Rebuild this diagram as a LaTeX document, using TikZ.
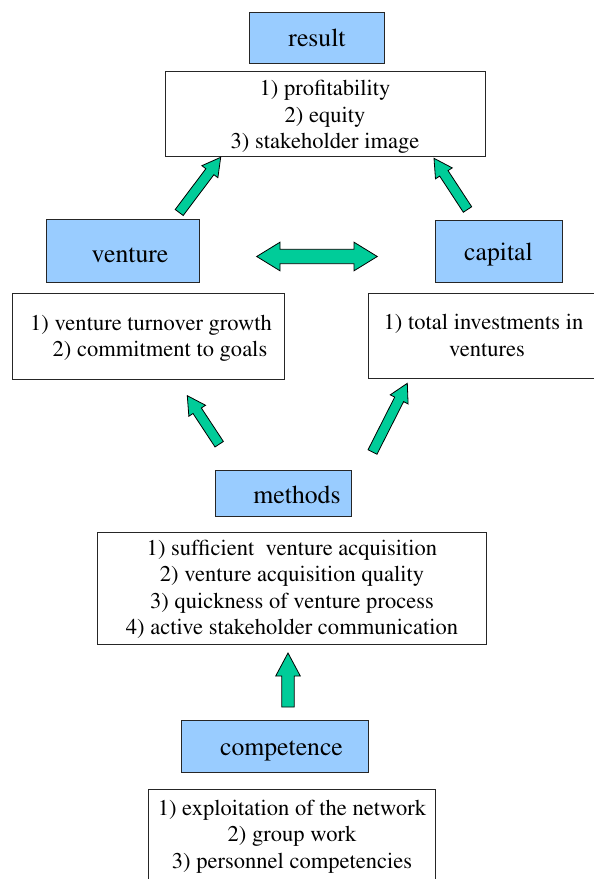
\documentclass[tikz,border=0pt]{standalone}
\usepackage[T1]{fontenc}
\renewcommand{\rmdefault}{ptm}
\usetikzlibrary{calc}

\definecolor{boxblue}{HTML}{99CCFF}
\definecolor{arrowgreen}{HTML}{00CC99}

% block arrow: tail, tip, shaft half-width, head half-width, head length
\newcommand{\blockarrow}[5]{%
  \coordinate (#2-base) at ($(#2)!#5!(#1)$);
  \draw[arrowshape]
    ($(#1)!#3!90:(#2)$) -- ($(#2-base)!#3!90:(#2)$) -- ($(#2-base)!#4!90:(#2)$)
    -- (#2)
    -- ($(#2-base)!#4!-90:(#2)$) -- ($(#2-base)!#3!-90:(#2)$) -- ($(#1)!#3!-90:(#2)$)
    -- cycle;
}
% double-headed block arrow: tip A, tip B, shaft half-width, head half-width, head length
\newcommand{\doubleblockarrow}[5]{%
  \coordinate (#1-base) at ($(#1)!#5!(#2)$);
  \coordinate (#2-base) at ($(#2)!#5!(#1)$);
  \draw[arrowshape]
    (#1) -- ($(#1-base)!#4!90:(#2)$) -- ($(#1-base)!#3!90:(#2)$)
    -- ($(#2-base)!#3!-90:(#1)$) -- ($(#2-base)!#4!-90:(#1)$)
    -- (#2)
    -- ($(#2-base)!#4!90:(#1)$) -- ($(#2-base)!#3!90:(#1)$)
    -- ($(#1-base)!#3!-90:(#2)$) -- ($(#1-base)!#4!-90:(#2)$)
    -- cycle;
}

\tikzset{
  titlebox/.style={draw=black!85, line width=0.8bp, fill=boxblue, inner sep=0pt},
  listbox/.style={draw=black!85, line width=0.8bp, fill=white, inner sep=0pt},
  titletext/.style={inner sep=0pt, anchor=base, font=\fontsize{25.8}{30}\selectfont},
  listtext/.style={inner sep=0pt, align=center, font=\fontsize{22.6}{26.7}\selectfont},
  arrowshape/.style={draw=black, line width=0.8bp, fill=arrowgreen, line join=miter},
}

\begin{document}
\begin{tikzpicture}[x=1bp, y=-1bp]
  \fill[white] (0,0) rectangle (594,879);
  \useasboundingbox (0,0) rectangle (594,879);

  % result
  \node[titlebox, minimum width=134.7bp, minimum height=51.3bp] (result) at (316.7,37.7) {};
  \node[titletext] (resulttitle) at (317,46) {result};
  \node[listbox, minimum width=320bp, minimum height=85bp] (reslist) at (325,114.2) {};
  \node[listtext] (reslisttext) at (325,117)
    {\strut 1) profitability\\ 2) equity\\ 3) stakeholder image\strut};

  % venture
  \node[titlebox, minimum width=153bp, minimum height=63.4bp] (venture) at (122.5,251) {};
  \node[titletext] (venturetitle) at (130,262) {venture};
  \node[listbox, minimum width=271.3bp, minimum height=86bp] (ventlist) at (148.3,336.3) {};
  \node[listtext] (ventlisttext) at (151,338)
    {\strut 1) venture turnover growth\\ \hspace*{18bp}2) commitment to goals\strut};

  % capital
  \node[titlebox, minimum width=127bp, minimum height=62.7bp] (capital) at (499.2,251.3) {};
  \node[titletext] (capitaltitle) at (498.5,260.5) {capital};
  \node[listbox, minimum width=234bp, minimum height=85bp] (caplist) at (485,335.8) {};
  \node[listtext] (caplisttext) at (483.5,337.5)
    {\strut 1) total investments in\\ \hspace*{7bp}ventures\strut};

  % methods
  \node[titlebox, minimum width=136.4bp, minimum height=46bp] (methods) at (283.5,493) {};
  \node[titletext] (methodstitle) at (297,503) {methods};
  \node[listbox, minimum width=389.4bp, minimum height=111.3bp] (methlist) at (292,588.3) {};
  \node[listtext] (methlisttext) at (292,589.7)
    {\strut 1) sufficient\ \ venture acquisition\\ 2) venture acquisition quality\\
     3) quickness of venture process\\ 4) active stakeholder communication\strut};

  % competence
  \node[titlebox, minimum width=186.3bp, minimum height=51.3bp] (competence) at (274.8,746.3) {};
  \node[titletext] (competencetitle) at (281.5,755) {competence};
  \node[listbox, minimum width=287.7bp, minimum height=96bp] (complist) at (291.8,837) {};
  \node[listtext] (complisttext) at (292,836.4)
    {\strut 1) exploitation of the network\\ 2) group work\\ 3) personnel competencies\strut};

  % arrow end points
  \coordinate (ventureout) at (179.2,212.5);
  \coordinate (resultinL)  at (220.7,157.3);
  \coordinate (capitalout) at (467.5,209.5);
  \coordinate (resultinR)  at (434,158.3);
  \coordinate (linkL)      at (256.7,256.5);
  \coordinate (linkR)      at (377.3,256.5);
  \coordinate (methodsoutL) at (219.2,444.2);
  \coordinate (ventlistin)  at (187.3,395.7);
  \coordinate (methodsoutR) at (372.5,452);
  \coordinate (caplistin)   at (407.3,383.3);
  \coordinate (competenceout) at (288,707);
  \coordinate (methlistin)    at (288,653);

  % arrows
  \blockarrow{ventureout}{resultinL}{5bp}{10bp}{18bp}
  \blockarrow{capitalout}{resultinR}{5bp}{10bp}{18bp}
  \doubleblockarrow{linkL}{linkR}{7.2bp}{14.3bp}{23.3bp}
  \blockarrow{methodsoutL}{ventlistin}{5bp}{10bp}{18bp}
  \blockarrow{methodsoutR}{caplistin}{5bp}{10bp}{18bp}
  \blockarrow{competenceout}{methlistin}{6.2bp}{12.3bp}{23bp}
\end{tikzpicture}
\end{document}
